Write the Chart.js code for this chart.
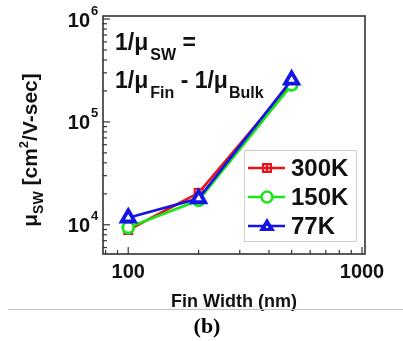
<!DOCTYPE html>
<html><head><meta charset="utf-8">
<script src="https://cdn.jsdelivr.net/npm/chart.js@4"></script>
<style>html,body{margin:0;padding:0;background:#fff;}canvas{display:block;}</style>
</head><body>
<canvas id="c" width="403" height="341" style="width:403px;height:341px"></canvas>
<script>
const finWidth = [100, 200, 500];
const mu300K = [8900, 20400, 240000];
const mu150K = [9400, 17300, 229000];
const mu77K = [11700, 18000, 256000];
const seriesLabels = ['300K', '150K', '77K'];
const yTickExps = [4, 5, 6];
const xTickLabels = [100, 1000];

function squareCross(){
  const c = document.createElement('canvas'); c.width = 14; c.height = 14;
  const g = c.getContext('2d');
  g.fillStyle = '#e8141b'; g.fillRect(2,2,10,10);
  g.fillStyle = '#ffb0b0';
  g.fillRect(4,4,2,2); g.fillRect(8,4,2,2); g.fillRect(4,8,2,2); g.fillRect(8,8,2,2);
  return c;
}
const sqImg = squareCross();
const colors = ['#e8141b', '#19e619', '#1414e6'];
const FONT = '"Liberation Sans", Arial, sans-serif';

const decor = {
  id: 'decor',
  afterDraw(chart){
    const ctx = chart.ctx, a = chart.chartArea;
    const xs = chart.scales.x, ys = chart.scales.y;
    ctx.save();
    // plot frame
    ctx.strokeStyle = '#333'; ctx.lineWidth = 1.6;
    ctx.strokeRect(a.left, a.top, a.right - a.left, a.bottom - a.top);
    // y ticks (inside)
    ctx.lineWidth = 1.2;
    for (let e = 3; e <= 6; e++) {
      for (let m = 1; m <= 9; m++) {
        const v = m * Math.pow(10, e);
        if (v < ys.min || v > ys.max) continue;
        const py = ys.getPixelForValue(v);
        const len = m === 1 ? 7 : 4;
        ctx.beginPath(); ctx.moveTo(a.left, py); ctx.lineTo(a.left + len, py); ctx.stroke();
      }
    }
    for (let e = 1; e <= 3; e++) {
      for (let m = 1; m <= 9; m++) {
        const v = m * Math.pow(10, e);
        if (v < xs.min || v > xs.max) continue;
        const px = xs.getPixelForValue(v);
        const len = m === 1 ? 7 : 4;
        ctx.beginPath(); ctx.moveTo(px, a.bottom); ctx.lineTo(px, a.bottom - len); ctx.stroke();
      }
    }
    ctx.fillStyle = '#111';
    // y tick labels
    yTickExps.forEach(e => {
      const py = ys.getPixelForValue(Math.pow(10, e));
      ctx.font = 'bold 20px ' + FONT;
      ctx.textAlign = 'right'; ctx.textBaseline = 'middle';
      ctx.fillText('10', 90, py + 2);
      ctx.font = 'bold 13px ' + FONT;
      ctx.textAlign = 'left';
      ctx.fillText(String(e), 91, py - 8);
    });
    // x tick labels
    ctx.font = 'bold 20px ' + FONT;
    ctx.textAlign = 'center'; ctx.textBaseline = 'alphabetic';
    xTickLabels.forEach(v => {
      ctx.fillText(String(v), xs.getPixelForValue(v), 278);
    });
    // x title
    ctx.font = 'bold 18px ' + FONT;
    ctx.fillText('Fin Width (nm)', 234, 307);
    // y title rotated
    ctx.save();
    ctx.translate(37, 150); ctx.rotate(-Math.PI / 2);
    const parts = [
      ['μ', 21, 0], ['SW', 14, 6], [' [cm', 21, 0], ['2', 13, -9], ['/V-sec]', 21, 0]
    ];
    let total = 0;
    parts.forEach(p => { ctx.font = 'bold ' + p[1] + 'px ' + FONT; total += ctx.measureText(p[0]).width; });
    let x = -total / 2;
    ctx.textAlign = 'left';
    parts.forEach(p => {
      ctx.font = 'bold ' + p[1] + 'px ' + FONT;
      ctx.fillText(p[0], x, p[2]);
      x += ctx.measureText(p[0]).width;
    });
    ctx.restore();
    // annotation
    function rich(parts, x0, y0) {
      let x = x0;
      parts.forEach(p => {
        ctx.font = 'bold ' + p[1] + 'px ' + FONT;
        ctx.fillText(p[0], x + (p[3] || 0), y0 + p[2]);
        x += ctx.measureText(p[0]).width + (p[3] || 0);
      });
    }
    ctx.textAlign = 'left';
    rich([['1/μ', 23, 0], ['SW', 16, 10, 2], [' =', 23, 0]], 115, 50);
    rich([['1/μ', 23, 0], ['Fin', 16, 10, 2], [' - 1/μ', 23, 0], ['Bulk', 16, 10, 1]], 115, 88);
    // legend
    const lx = 244, ly = 150, lw = 112, lh = 91;
    ctx.fillStyle = '#fff';
    ctx.fillRect(lx, ly, lw, lh);
    ctx.strokeStyle = '#cfcfcf'; ctx.lineWidth = 1;
    ctx.strokeRect(lx + 0.5, ly + 0.5, lw, lh);
    chart.data.datasets.forEach((ds, i) => {
      const cy = 168 + i * 29;
      ctx.strokeStyle = ds.borderColor; ctx.lineWidth = 2.5;
      ctx.beginPath(); ctx.moveTo(248, cy); ctx.lineTo(285, cy); ctx.stroke();
      if (i === 2) {
        ctx.fillStyle = ds.borderColor;
        ctx.beginPath(); ctx.moveTo(267, cy - 8); ctx.lineTo(275, cy + 5); ctx.lineTo(259, cy + 5); ctx.closePath(); ctx.fill();
        ctx.fillStyle = '#fff'; ctx.fillRect(266, cy, 2, 2);
      } else {
        ctx.fillStyle = '#fff';
        ctx.strokeStyle = ds.borderColor;
        Chart.helpers.drawPoint(ctx, {
          pointStyle: ds.pointStyle, radius: ds.pointRadius, borderWidth: ds.pointBorderWidth, rotation: 0
        }, 267, cy);
      }
      ctx.fillStyle = '#111';
      ctx.font = 'bold 24px ' + FONT;
      ctx.textBaseline = 'middle';
      ctx.fillText(ds.label, 291, cy + 1);
    });
    // caption
    ctx.strokeStyle = '#c4c4c4'; ctx.lineWidth = 1;
    ctx.beginPath(); ctx.moveTo(8, 309.5); ctx.lineTo(403, 309.5); ctx.stroke();
    ctx.fillStyle = '#000';
    ctx.font = 'bold 22px "Liberation Serif", "Times New Roman", serif';
    ctx.textAlign = 'center'; ctx.textBaseline = 'alphabetic';
    ctx.fillText('(b)', 207, 333);
    ctx.restore();
  }
};

function mk(label, data, i, style, radius, bw) {
  return {
    label, data: finWidth.map((x, k) => ({x, y: data[k]})),
    borderColor: colors[i], backgroundColor: '#fff',
    pointBorderColor: colors[i], pointBackgroundColor: '#fff',
    borderWidth: 2.6, pointStyle: style, pointRadius: radius, pointBorderWidth: bw,
    pointHoverRadius: radius, tension: 0, clip: false, order: 3 - i
  };
}

new Chart(document.getElementById('c'), {
  type: 'line',
  data: { datasets: [
    mk(seriesLabels[0], mu300K, 0, sqImg, 7, 2),
    mk(seriesLabels[1], mu150K, 1, 'circle', 5.5, 2.8),
    mk(seriesLabels[2], mu77K, 2, 'triangle', 7.5, 3.8)
  ]},
  options: {
    responsive: false, devicePixelRatio: 1, animation: false,
    layout: { padding: { top: 16, right: 38, left: 0, bottom: 0 } },
    plugins: { legend: { display: false }, tooltip: { enabled: false } },
    scales: {
      x: { type: 'logarithmic', min: 78, max: 1030,
           grid: { display: false, drawTicks: false }, border: { display: false },
           ticks: { display: false },
           afterFit: s => { s.height = 87; } },
      y: { type: 'logarithmic', min: 5200, max: 1070000,
           grid: { display: false, drawTicks: false }, border: { display: false },
           ticks: { display: false },
           afterFit: s => { s.width = 103; } }
    }
  },
  plugins: [decor]
});
</script>
</body></html>
